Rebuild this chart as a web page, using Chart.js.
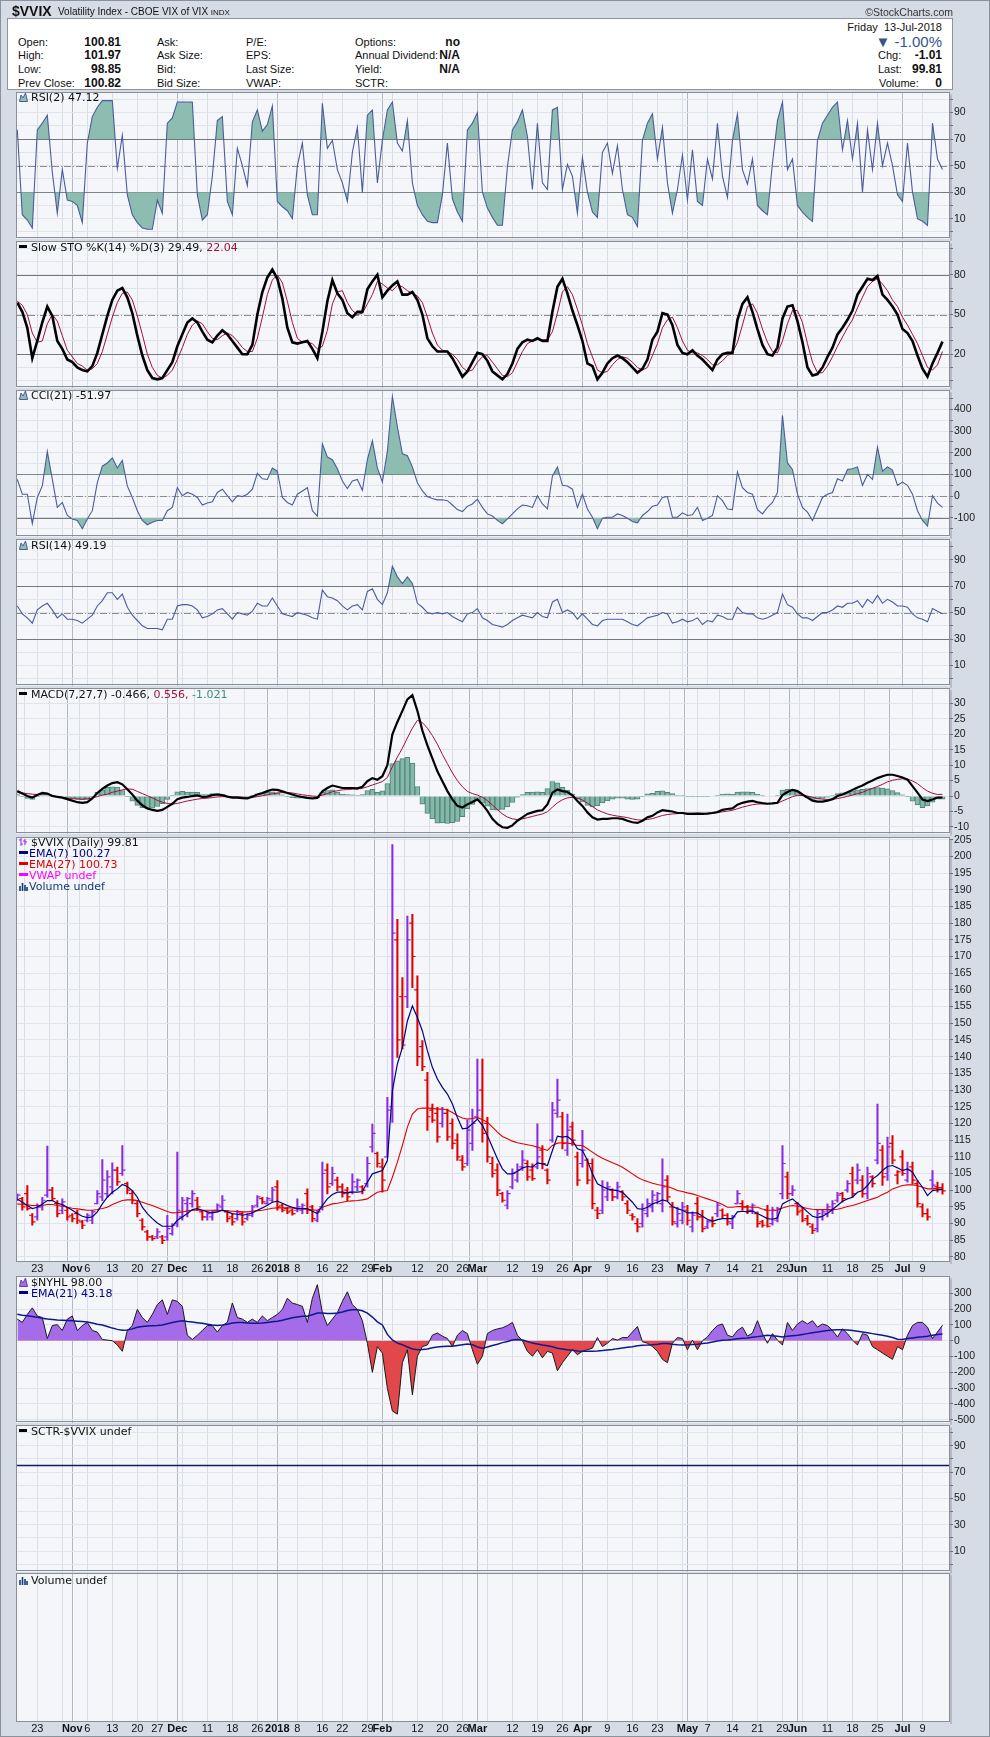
<!DOCTYPE html>
<html><head><meta charset="utf-8">
<script src="https://cdn.jsdelivr.net/npm/chart.js"></script>
<style>
html,body{margin:0;padding:0}
body{width:990px;height:1737px;background:#d6dce5;position:relative;overflow:hidden;font-family:"Liberation Sans",Arial,sans-serif;}
#edge{position:absolute;left:0;top:0;width:988px;height:1735px;border:1px solid #8a929e;z-index:9;pointer-events:none}
canvas{position:absolute;left:0}
.t{position:absolute;white-space:nowrap;font-size:11px;line-height:14px;height:14px;color:#111;z-index:6}
.b{font-weight:bold;font-size:12px}
#box{position:absolute;left:7px;top:18px;width:944px;height:70px;background:#fff;border:1px solid #8f949c;z-index:5}
.lg{position:absolute;left:19px;white-space:nowrap;font-family:"DejaVu Sans",Verdana,sans-serif;font-size:11px;line-height:14px;height:14px;color:#111;z-index:6}
.lg svg{vertical-align:-1px;margin-right:3px}
.dash{display:inline-block;width:8px;height:3px;vertical-align:3px;margin-right:4px}
</style></head>
<body>
<div id="edge"></div>
<div class="t" style="left:12px;top:4px;font-weight:bold;font-size:14px">$VVIX</div>
<div class="t" style="left:58px;top:5px;font-size:10px">Volatility Index - CBOE VIX of VIX <span style="font-size:8px">INDX</span></div>
<div class="t" style="right:37px;top:5px;font-size:10.5px;color:#333">©StockCharts.com</div>
<div id="box"></div>
<div class="t" style="right:48px;top:20px">Friday&nbsp; 13-Jul-2018</div>
<div class="t" style="left:18px;top:35px">Open:</div><div class="t b" style="right:869px;top:35px">100.81</div>
<div class="t" style="left:18px;top:48px">High:</div><div class="t b" style="right:869px;top:48px">101.97</div>
<div class="t" style="left:18px;top:62px">Low:</div><div class="t b" style="right:869px;top:62px">98.85</div>
<div class="t" style="left:18px;top:76px">Prev Close:</div><div class="t b" style="right:869px;top:76px">100.82</div>
<div class="t" style="left:157px;top:35px">Ask:</div>
<div class="t" style="left:157px;top:48px">Ask Size:</div>
<div class="t" style="left:157px;top:62px">Bid:</div>
<div class="t" style="left:157px;top:76px">Bid Size:</div>
<div class="t" style="left:246px;top:35px">P/E:</div>
<div class="t" style="left:246px;top:48px">EPS:</div>
<div class="t" style="left:246px;top:62px">Last Size:</div>
<div class="t" style="left:246px;top:76px">VWAP:</div>
<div class="t" style="left:355px;top:35px">Options:</div><div class="t b" style="right:530px;top:35px">no</div>
<div class="t" style="left:355px;top:48px">Annual Dividend:</div><div class="t b" style="right:530px;top:48px">N/A</div>
<div class="t" style="left:355px;top:62px">Yield:</div><div class="t b" style="right:530px;top:62px">N/A</div>
<div class="t" style="left:355px;top:76px">SCTR:</div>
<div class="t" style="right:48px;top:33px;font-size:15px;height:18px;line-height:18px;color:#34558c">&#9660; -1.00%</div>
<div class="t" style="left:878px;top:48px">Chg:</div><div class="t b" style="right:48px;top:48px">-1.01</div>
<div class="t" style="left:878px;top:62px">Last:</div><div class="t b" style="right:48px;top:62px">99.81</div>
<div class="t" style="left:879px;top:76px">Volume:</div><div class="t b" style="right:48px;top:76px">0</div>

<div class="lg" style="top:91px"><svg width="9" height="10"><path d="M0.5 9.5 L2 3 L4 6 L6.5 1 L8.5 9.5 Z" fill="#8cbfb0" stroke="#4b5c9c"/></svg>RSI(2) 47.12</div>
<div class="lg" style="top:241px"><span class="dash" style="background:#000"></span>Slow STO %K(14) %D(3) 29.49, <span style="color:#a0103c">22.04</span></div>
<div class="lg" style="top:389px"><svg width="9" height="10"><path d="M0.5 9.5 L2 3 L4 6 L6.5 1 L8.5 9.5 Z" fill="#8cbfb0" stroke="#4b5c9c"/></svg>CCI(21) -51.97</div>
<div class="lg" style="top:539px"><svg width="9" height="10"><path d="M0.5 9.5 L2 3 L4 6 L6.5 1 L8.5 9.5 Z" fill="#8cbfb0" stroke="#4b5c9c"/></svg>RSI(14) 49.19</div>
<div class="lg" style="top:688px"><span class="dash" style="background:#000"></span>MACD(7,27,7) -0.466, <span style="color:#a0103c">0.556,</span> <span style="color:#3f8f7a">-1.021</span></div>
<div class="lg" style="top:836px"><svg width="9" height="10"><path d="M2 1 V9 M0 3 H2 M2 7 H4 M6 2 V8 M4 4 H6 M6 5 H8" stroke="#8a2be2" fill="none"/></svg>$VVIX (Daily) 99.81</div>
<div class="lg" style="top:847px;color:#000080"><span class="dash" style="background:#000080;width:9px;margin-right:1px"></span>EMA(7) 100.27</div>
<div class="lg" style="top:858px;color:#e00000"><span class="dash" style="background:#e00000;width:9px;margin-right:1px"></span>EMA(27) 100.73</div>
<div class="lg" style="top:869px;color:#ff00ff"><span class="dash" style="background:#ff00ff;width:9px;margin-right:1px"></span>VWAP undef</div>
<div class="lg" style="top:880px;color:#163c78"><svg width="9" height="10" style="margin-right:1px"><path d="M1 10 V5 M3.5 10 V2 M6 10 V4 M8 10 V6" stroke="#163c78" stroke-width="1.6" fill="none"/></svg>Volume undef</div>
<div class="lg" style="top:1276px"><svg width="9" height="10"><path d="M0.5 9.5 L2 3 L4 6 L6.5 1 L8.5 9.5 Z" fill="#a46ce8" stroke="#6a3cb0"/></svg>$NYHL 98.00</div>
<div class="lg" style="top:1287px;color:#000080"><span class="dash" style="background:#000080;width:9px;margin-right:3px"></span>EMA(21) 43.18</div>
<div class="lg" style="top:1425px"><span class="dash" style="background:#000"></span>SCTR-$VVIX undef</div>
<div class="lg" style="top:1574px"><svg width="9" height="10"><path d="M1 10 V5 M3.5 10 V2 M6 10 V4 M8 10 V6" stroke="#163c78" stroke-width="1.6" fill="none"/></svg>Volume undef</div>

<script>
// ---------- DATA (one value per trading day, 17-Oct-2017 .. 13-Jul-2018) ----------
const openP = [97.2,97.5,99.0,92.5,92.0,95.0,98.5,100.0,96.0,94.0,
94.0,92.5,93.0,90.5,91.0,91.0,96.0,98.0,99.0,101.0,
106.0,105.0,102.0,99.0,96.0,91.0,87.5,86.0,86.0,86.0,
86.0,87.0,90.0,92.0,96.0,96.0,97.0,93.5,92.0,92.0,
94.0,95.0,93.5,92.0,91.5,93.0,91.5,92.5,95.5,97.5,
96.0,97.0,101.0,95.5,94.5,94.0,94.0,94.0,99.0,95.0,
91.0,95.0,106.0,102.0,103.0,101.0,100.0,99.5,101.0,101.0,
102.0,113.0,111.0,107.0,110.0,125.0,175.0,158.0,158.0,180.0,
160.0,143.0,133.0,124.0,123.0,120.0,123.0,120.0,115.0,109.0,
108.0,114.0,122.0,130.0,120.0,108.0,106.0,99.0,95.5,101.0,
103.0,107.0,108.0,106.0,107.0,112.0,106.0,115.0,123.0,122.0,
112.0,119.0,110.0,108.0,109.0,108.0,94.0,94.0,98.0,100.0,
98.0,99.5,96.0,92.5,90.0,90.0,93.0,95.0,97.0,96.0,
103.0,95.0,90.0,91.0,94.0,89.0,96.0,92.0,89.0,91.0,
93.0,94.0,92.5,90.0,96.0,96.0,95.0,94.0,93.0,90.5,
94.0,90.0,91.0,99.0,104.0,99.0,96.0,94.0,91.5,89.0,
88.5,92.0,93.0,94.0,97.0,99.0,100.0,105.0,103.0,103.0,
99.0,104.0,109.0,112.0,105.0,114.0,104.5,110.0,103.0,107.0,
102.0,95.0,93.0,103.0,101.0,100.81];
const highP = [98.9,97.9,101.4,93.0,95.9,97.9,113.2,100.9,96.9,97.4,
94.9,93.0,94.0,91.0,93.0,94.0,99.9,109.2,105.9,108.2,
106.9,113.4,102.4,99.9,96.9,91.5,88.0,86.5,88.5,86.5,
92.5,90.0,111.4,97.9,97.9,99.9,97.9,94.0,93.5,94.0,
95.9,98.4,94.0,93.0,94.0,93.5,93.0,95.5,98.4,97.9,
97.9,100.9,102.9,95.9,94.9,94.4,97.4,95.9,100.4,95.5,
94.0,108.4,107.9,106.9,103.9,101.9,100.9,104.9,103.4,101.4,
109.9,119.8,111.4,109.4,127.8,203.5,181.1,163.7,182.1,182.6,
164.2,144.8,135.3,125.8,124.8,124.8,124.3,121.4,116.9,110.4,
120.9,124.3,139.3,139.3,121.8,109.9,107.9,99.4,99.9,106.4,
107.9,111.9,108.9,107.9,119.9,113.4,106.4,126.3,133.3,123.3,
122.8,120.4,111.4,117.9,109.4,109.4,94.9,102.9,102.4,100.4,
102.4,99.9,96.9,93.0,91.5,95.9,97.4,99.9,99.4,109.4,
104.4,96.4,94.9,96.4,95.5,93.5,97.9,94.0,91.0,92.0,
96.4,94.4,93.0,92.5,99.9,96.9,95.5,95.9,93.5,91.0,
95.5,94.9,94.9,113.4,105.4,101.4,96.4,94.9,92.5,89.9,
94.0,94.0,95.9,96.9,99.4,99.4,102.9,106.9,107.9,104.4,
106.9,104.4,125.8,113.4,115.9,116.4,105.9,111.9,108.4,108.4,
102.9,95.9,94.4,105.9,102.4,101.97];
const lowP = [96.9,94.0,94.0,89.5,91.0,94.0,97.9,96.9,92.0,93.0,
91.0,90.5,90.0,88.5,90.5,90.0,95.9,96.9,97.9,98.9,
101.4,104.4,98.9,95.9,92.0,88.0,85.0,85.0,85.5,84.0,
85.0,86.5,89.0,91.0,92.0,94.9,94.0,91.0,91.0,91.0,
93.5,94.0,90.5,89.5,91.0,89.5,91.0,92.0,94.9,95.9,
95.9,96.4,94.0,93.5,93.0,92.5,93.5,93.0,93.0,90.5,
90.5,94.0,98.9,101.4,99.9,97.9,96.9,98.9,99.9,98.9,
100.9,111.4,106.9,99.4,109.9,120.3,139.8,142.3,154.7,160.7,
137.3,135.8,117.9,120.3,114.4,118.9,114.9,112.4,108.9,105.9,
107.4,111.9,121.4,114.4,108.4,103.9,98.4,96.4,94.4,100.4,
102.4,105.9,102.9,102.9,106.4,106.4,101.9,114.4,121.8,112.4,
110.4,113.4,101.4,106.9,101.9,94.4,91.5,93.0,96.9,96.9,
97.4,96.9,93.0,91.0,87.5,88.9,92.0,93.5,95.9,93.5,
96.9,89.5,88.9,89.9,89.5,87.5,91.0,87.5,88.5,89.0,
92.0,91.5,89.5,88.5,95.9,94.0,93.0,93.0,88.9,88.9,
88.9,89.5,90.5,97.4,97.4,98.4,92.5,90.5,89.5,87.0,
87.5,91.0,92.0,93.0,96.4,96.4,99.4,97.9,101.9,97.9,
97.4,100.9,107.9,101.4,102.9,107.9,101.9,104.4,102.4,101.9,
94.9,92.0,91.0,100.4,99.4,98.85];
const closeP = [98.5,95.0,94.5,90.5,95.0,97.0,100.0,97.5,93.0,96.5,
92.0,91.5,91.0,89.5,92.5,93.5,99.0,103.0,104.0,106.0,
102.5,106.0,100.0,97.0,93.0,89.0,86.0,85.5,87.5,85.0,
88.5,89.5,94.0,97.0,97.5,99.0,95.0,92.0,93.0,93.5,
95.5,97.0,91.5,90.5,93.5,90.5,92.5,95.0,98.0,96.5,
97.5,100.0,95.0,94.0,93.5,93.0,95.0,95.5,94.0,91.5,
93.5,105.0,101.0,105.0,101.0,99.0,98.0,102.5,103.0,100.0,
108.0,117.0,108.0,103.0,124.0,177.0,145.0,143.5,175.0,170.0,
140.0,137.0,122.0,121.0,116.0,123.0,116.0,114.0,110.0,107.0,
118.0,120.0,124.0,117.0,110.0,105.0,100.0,97.0,99.0,105.0,
106.0,109.0,104.0,103.5,110.0,108.0,103.0,124.0,127.0,114.0,
118.0,115.0,103.0,112.0,103.0,96.0,93.0,100.0,101.0,98.0,
101.0,98.0,94.0,92.0,89.0,94.0,96.0,98.5,99.0,101.0,
98.0,90.5,93.0,95.0,91.0,92.5,92.0,88.5,90.5,90.0,
95.5,92.5,90.5,92.0,99.0,95.0,94.0,95.5,90.0,89.5,
89.2,94.0,94.5,108.0,99.0,100.0,93.5,91.0,90.0,88.0,
93.0,93.5,95.0,96.0,98.5,97.5,102.0,99.0,106.0,99.0,
105.0,102.0,114.0,104.0,113.0,109.0,105.5,105.0,106.0,103.0,
96.0,93.0,92.0,101.5,100.82,99.81];
const ema7 = [97.4,96.4,95.4,94.5,94.9,95.9,96.9,96.9,96.1,95.7,
94.9,94.0,93.0,92.2,91.8,92.0,93.5,95.9,97.9,99.4,
100.4,101.7,101.1,99.9,97.9,94.9,93.0,91.5,90.2,89.2,
89.2,89.2,91.0,92.0,93.0,94.2,94.5,94.0,93.5,93.2,
93.5,94.0,93.5,93.0,92.8,92.5,92.8,93.2,94.0,94.7,
95.5,96.4,96.7,96.1,95.4,94.9,94.5,94.5,94.5,93.7,
93.0,95.4,97.4,98.7,99.4,99.4,99.2,99.4,99.4,99.6,
102.4,104.9,105.4,105.9,108.9,129.8,137.8,142.8,150.7,155.2,
151.7,147.7,141.8,136.8,133.3,130.8,128.8,125.8,121.8,118.4,
118.6,119.9,121.3,119.4,116.4,112.9,109.4,106.4,104.9,104.9,
105.7,106.7,107.1,106.9,108.2,107.9,107.4,111.9,116.2,115.9,
116.1,114.9,112.4,111.9,108.9,104.9,101.9,101.1,100.4,100.1,
99.9,99.4,97.9,96.4,94.5,94.3,94.9,95.9,96.4,97.1,
96.7,95.1,94.5,94.0,93.2,93.2,93.2,92.2,91.3,90.7,
91.2,91.5,91.5,91.5,93.5,93.7,93.5,93.8,93.0,92.3,
91.5,91.3,91.7,95.9,96.7,97.4,96.1,94.9,93.5,92.2,
91.8,92.2,93.0,94.2,95.4,96.7,97.4,97.9,99.4,99.9,
101.4,103.4,104.4,105.9,107.1,107.4,106.7,105.9,106.4,105.4,
102.9,100.9,98.4,99.9,100.1,100.27];
const ema27 = [95.9,95.7,95.6,95.4,95.4,95.4,95.7,95.7,95.4,95.2,
94.9,94.6,94.4,94.2,94.0,94.0,94.2,94.5,94.9,95.7,
96.3,96.9,97.1,97.1,96.9,96.4,95.9,95.4,94.8,94.2,
93.6,93.2,93.3,93.5,93.8,94.0,94.0,94.0,94.0,94.0,
94.0,93.9,93.8,93.7,93.6,93.5,93.5,93.7,93.9,94.0,
94.3,94.6,94.7,94.7,94.7,94.7,94.5,94.4,94.3,94.1,
94.0,94.9,95.4,95.9,96.1,96.4,96.7,96.8,96.9,97.1,
97.4,98.4,99.4,99.7,99.9,103.9,108.4,113.4,118.9,122.8,
124.3,124.6,124.6,124.5,124.3,124.3,124.0,123.3,122.3,121.6,
121.3,121.5,121.8,121.1,120.4,118.9,117.4,116.1,115.4,114.7,
114.2,113.9,113.6,113.3,112.9,112.4,111.9,113.4,114.1,114.2,
114.1,113.9,113.4,113.4,112.4,111.4,110.4,109.6,108.9,108.2,
107.6,106.9,105.9,104.9,103.9,103.1,102.6,102.1,101.7,101.4,
101.1,100.6,99.9,99.6,99.2,98.9,98.4,97.9,97.4,96.9,
96.4,95.7,94.9,94.9,95.1,95.1,95.0,94.9,94.9,94.4,
94.0,94.0,94.0,94.7,95.1,95.4,95.2,94.9,94.5,94.3,
94.2,94.2,94.2,94.2,94.3,94.7,95.1,95.4,95.9,96.4,
96.9,97.4,97.9,98.7,99.4,100.4,100.9,101.4,101.6,101.6,
101.4,100.9,100.4,100.4,100.6,100.73];
const rsi2 = [77,13,9,3,77,82,88,45,14,47,
24,23,20,7,67,87,94,99,99,99,
48,73,28,13,7,3,2,2,24,14,
82,86,98,98,98,98,28,9,13,42,
84,87,23,13,63,50,35,83,92,76,
81,95,23,19,16,10,50,67,28,13,
13,97,63,69,47,37,23,60,79,30,
88,92,37,69,92,98,67,61,84,37,
20,13,8,7,7,28,67,25,15,8,
77,82,90,30,18,11,5,5,49,77,
83,92,72,32,82,37,32,92,94,32,
51,42,14,56,30,15,11,60,67,44,
65,32,13,11,4,69,82,89,55,79,
37,14,32,58,24,62,23,20,55,40,
82,42,26,69,89,47,36,55,20,16,
13,52,84,98,47,55,20,15,11,8,
69,82,88,94,98,62,84,55,82,30,
77,47,82,50,67,50,28,23,67,30,
10,8,5,82,55,47.12];
const stoK = [59,52,40,17,30,44,56,49,30,24,
16,14,10,8,7,11,21,35,49,61,
68,70,63,51,34,19,8,2,1,2,
8,14,26,35,44,47,44,37,31,29,
34,38,35,30,25,20,20,27,50,67,
78,84,77,62,40,29,28,29,30,24,
17,37,60,76,66,61,51,48,52,52,
69,75,80,63,68,72,75,65,65,67,
61,50,32,26,22,22,22,17,10,3,
7,14,21,20,15,7,4,1,5,13,
24,29,31,30,32,30,30,52,71,77,
66,53,42,30,13,11,1,6,13,17,
19,17,14,10,6,9,16,31,37,51,
50,42,27,21,20,23,19,16,12,8,
16,20,21,21,46,58,63,52,39,27,
20,19,25,47,56,57,45,29,10,4,
5,10,18,25,35,40,46,53,65,71,
77,76,79,65,61,56,50,39,36,30,
19,9,3,13,21,29.49];
const stoD = [60,57,50,36,29,30,43,50,45,34,
23,18,13,11,8,9,13,22,35,48,
59,66,67,61,49,35,20,10,4,2,
4,8,16,25,35,42,45,43,37,32,
31,34,36,34,30,25,22,22,32,48,
65,76,80,74,60,44,32,29,29,28,
24,26,38,58,67,68,59,53,50,51,
58,65,75,73,70,68,72,71,68,66,
64,59,48,36,27,23,22,20,16,10,
7,8,14,18,19,14,9,4,3,6,
14,22,28,30,31,31,31,37,51,67,
71,65,54,42,28,18,8,6,7,12,
16,18,17,14,10,8,10,19,28,40,
46,48,40,30,23,21,21,19,16,12,
12,15,19,21,29,42,56,58,51,39,
29,22,21,30,43,53,53,44,28,14,
6,6,11,18,26,33,40,46,55,63,
71,75,77,73,68,61,56,48,42,35,
28,19,10,8,12,22.04];
const cci21 = [77,9,9,-127,-6,47,206,77,-52,-29,
-89,-105,-112,-150,-105,-67,62,138,153,176,
130,165,47,-6,-67,-112,-132,-120,-112,-112,
-67,-52,39,2,17,9,-6,-41,-32,-26,
17,32,2,-26,2,-2,9,32,105,80,
77,130,115,-6,-29,-41,9,24,39,-67,
-92,241,180,168,126,70,35,70,77,27,
168,255,130,65,206,459,320,195,186,135,
62,24,-2,-11,-17,-17,-21,-41,-62,-71,
-47,-36,-14,-52,-82,-92,-112,-127,-105,-82,
-59,-41,-44,-52,2,-36,-59,92,135,50,
47,32,-52,9,-59,-97,-150,-102,-97,-97,
-82,-89,-102,-117,-123,-89,-71,-47,-41,-6,
-2,-97,-97,-77,-89,-86,-52,-112,-102,-89,
2,-21,-59,-62,111,39,17,9,-62,-82,
-52,-29,17,373,153,123,9,-52,-74,-112,
-59,-6,9,17,80,70,123,126,135,50,
100,77,226,115,135,120,50,65,50,9,
-67,-112,-138,2,-32,-51.97];
const rsi14 = [55,49,46,42,52,55,57,52,46,49,
45,45,44,42,45,48,55,59,65,65,
60,64,54,48,44,40,38,38,38,37,
45,45,55,56,56,55,52,46,47,49,
52,53,49,45,50,49,48,51,57,55,
55,61,55,49,48,47,50,49,48,46,
45,67,62,61,59,55,52,55,56,52,
66,68,60,56,65,85,77,72,77,72,
57,54,50,49,50,49,50,47,45,43,
49,50,53,46,44,41,40,39,41,44,
46,48,47,46,50,47,46,58,60,50,
52,50,45,49,45,41,40,44,45,45,
45,45,43,41,40,43,46,47,48,50,
49,42,43,45,43,44,46,41,44,43,
48,47,45,45,54,50,49,49,46,45,
46,48,50,64,56,54,49,46,46,44,
47,50,50,52,55,54,57,57,59,54,
60,57,63,57,60,58,55,55,54,49,
46,45,43,53,51,49.19];
const macdLine = [1.6,0.8,0,-0.5,0.3,1,0.8,0,-0.3,-0.5,
-1,-1.5,-2,-2.2,-2,-0.8,1,2.3,3.4,4.2,
4.5,3.8,2.2,0.5,-1.5,-3,-4,-4.5,-4.8,-4.5,
-3.5,-2.5,-1,-0.5,-0.3,0,0.2,-0.3,-0.2,0.3,
0.5,0.3,-0.2,-0.5,-0.5,-0.7,-0.8,-0.2,0.5,1,
1.6,2.1,2,1.5,1,0.5,0,-0.3,-0.6,-0.8,
-0.6,1.5,2.6,3.4,3,2.6,2.6,2.6,2.5,3,
4.8,5.8,5.3,6.4,10,20,24,27.6,31.3,32.7,
27.6,21.2,16.4,12.2,8,4.8,1.6,-1.1,-3.2,-3.7,
-2.7,-1.9,-1.1,-2.7,-4.8,-7.4,-9,-10.1,-10.3,-9.5,
-8,-6.9,-5.8,-5.3,-4.8,-4.6,-2.7,1.1,2.1,1.6,
1.3,0.2,-1.6,-3.2,-5.3,-6.9,-7.6,-7.4,-7.4,-7.2,
-7.2,-7.4,-8,-8.5,-8.7,-8,-6.9,-6.4,-5.3,-4.6,
-4.8,-5,-5.5,-5.5,-5.8,-5.8,-5.7,-5.8,-5.7,-5.5,
-5.2,-4.5,-4.2,-4,-2.8,-2.2,-1.8,-1.6,-2,-2.3,
-2.5,-2.4,-2.2,0.3,1.3,2,1.6,0.5,-0.5,-1.5,
-1.8,-1.8,-1.5,-1,0,0.5,1.2,2,2.8,3.4,
4.3,5,5.8,6.4,6.9,6.9,6.5,6,5.3,3.2,
1.1,-1.1,-1.6,-1.1,-0.5,-0.466];
const macdSignal = [1.1,1.0,0.8,0.6,0.5,0.6,0.6,0.2,-0.1,-0.5,
-0.6,-0.8,-1.0,-1.0,-0.9,-0.6,-0.2,0.3,0.6,1.2,
1.6,2.0,2.3,2.2,1.5,0.8,0.1,-0.6,-1.4,-2.0,
-2.4,-2.6,-2.4,-2.0,-1.6,-1.3,-1.0,-0.8,-0.7,-0.5,
-0.3,-0.2,-0.2,-0.3,-0.3,-0.4,-0.5,-0.4,-0.2,0.1,
0.4,0.7,1.0,1.1,1.1,1.0,0.7,0.4,0.2,0.0,
-0.1,0.3,0.8,1.4,1.7,2.0,2.1,2.2,2.3,2.5,
3.0,3.6,4.1,4.7,6.0,9.5,12.6,15.5,18.8,22.0,
24.5,23.8,22.0,19.6,16.8,13.5,10.5,7.5,5.0,3.0,
1.5,0.8,0.3,-0.4,-1.5,-2.9,-4.4,-5.8,-6.8,-7.4,
-7.6,-7.4,-7.0,-6.6,-6.2,-5.8,-5.1,-3.6,-2.2,-1.2,
-0.6,-0.4,-0.7,-1.3,-2.3,-3.4,-4.5,-5.2,-5.8,-6.2,
-6.5,-6.7,-7.0,-7.4,-7.7,-7.8,-7.6,-7.3,-6.8,-6.3,
-6.0,-5.8,-5.7,-5.6,-5.6,-5.6,-5.6,-5.6,-5.6,-5.5,
-5.3,-5.1,-4.9,-4.6,-4.1,-3.6,-3.2,-2.8,-2.6,-2.5,
-2.5,-2.4,-2.3,-1.6,-0.9,-0.2,0.2,0.2,0.0,-0.4,
-0.8,-1.0,-1.1,-1.1,-0.8,-0.5,-0.1,0.3,0.8,1.2,
1.9,2.5,3.1,3.8,4.6,5.1,5.4,5.6,5.5,4.9,
4.0,2.7,1.6,0.9,0.5,0.556];
const macdHist = [0.5,-0.2,-0.8,-1.1,-0.2,0.4,0.2,-0.2,-0.2,0.0,
-0.4,-0.7,-1.0,-1.2,-1.1,-0.2,1.2,2.0,2.8,3.0,
2.9,1.8,-0.1,-1.7,-3.0,-3.8,-4.1,-3.9,-3.4,-2.5,
-1.1,0.1,1.4,1.5,1.3,1.3,1.2,0.5,0.5,0.8,
0.8,0.5,0.0,-0.2,-0.2,-0.3,-0.3,0.2,0.7,0.9,
1.2,1.4,1.0,0.4,-0.1,-0.5,-0.7,-0.7,-0.8,-0.8,
-0.5,1.2,1.8,2.0,1.3,0.6,0.5,0.4,0.2,0.5,
1.8,2.2,1.2,1.7,4.0,10.5,11.4,12.1,12.5,10.7,
3.1,-2.6,-5.6,-7.4,-8.8,-8.7,-8.9,-8.6,-8.2,-6.7,
-4.2,-2.7,-1.4,-2.3,-3.3,-4.5,-4.6,-4.3,-3.5,-2.1,
-0.4,0.5,1.2,1.3,1.4,1.2,2.4,4.7,4.3,2.8,
1.9,0.6,-0.9,-1.9,-3.0,-3.5,-3.1,-2.2,-1.6,-1.0,
-0.7,-0.7,-1.0,-1.1,-1.0,-0.2,0.7,0.9,1.5,1.7,
1.2,0.8,0.2,0.1,-0.2,-0.2,-0.1,-0.2,-0.1,0.0,
0.1,0.6,0.7,0.6,1.3,1.4,1.4,1.2,0.6,0.2,
0.0,0.0,0.1,1.9,2.2,2.2,1.4,0.3,-0.5,-1.1,
-1.0,-0.8,-0.4,0.1,0.8,1.0,1.3,1.7,2.0,2.2,
2.4,2.5,2.7,2.6,2.3,1.8,1.1,0.4,-0.2,-1.7,
-2.9,-3.8,-3.2,-2.0,-1.0,-1.021];
const nyhl = [137,116,167,208,157,147,14,96,102,65,
137,157,65,96,116,65,55,8,4,0,
-27,-67,65,96,198,147,116,167,229,259,
167,259,249,218,35,8,35,65,96,96,
55,96,116,239,147,137,116,137,116,157,
127,147,167,198,269,239,229,218,116,269,
355,178,96,137,178,249,310,229,198,127,
-16,-200,-37,-78,-302,-445,-465,-139,-57,-343,
-98,-37,-27,35,49,29,14,-37,35,65,
45,-57,-149,-98,45,65,75,82,96,116,
35,0,-67,-98,-57,-108,-67,-78,-190,-139,
-98,-57,-88,-67,-57,-47,20,-37,-16,14,
4,20,20,55,90,-6,-16,-37,-67,-118,
-139,-16,20,14,-57,4,-57,0,24,65,
96,106,35,24,65,86,29,49,127,45,
-16,45,4,-27,116,65,106,127,106,127,
86,106,96,65,24,75,45,4,-27,45,
35,-37,-57,-78,-98,-118,-37,-57,35,96,
116,116,86,14,55,98];
const nyhlEma21 = [167,162,158,153,148,143,138,135,132,130,
128,126,124,122,118,112,105,100,90,80,
72,66,68,75,85,90,93,95,96,100,
108,115,122,127,122,118,114,110,105,100,
96,100,105,112,116,115,113,111,110,112,
116,120,124,130,138,145,150,155,155,165,
175,175,172,173,175,182,192,196,196,190,
175,150,120,100,40,5,-15,-25,-40,-52,
-57,-55,-52,-45,-40,-37,-35,-35,-30,-25,
-20,-25,-40,-47,-40,-30,-22,-12,-5,5,
8,5,-5,-15,-20,-27,-32,-38,-47,-52,
-57,-60,-65,-67,-67,-67,-65,-62,-58,-55,
-50,-46,-42,-38,-32,-28,-27,-25,-22,-18,
-18,-22,-25,-27,-26,-24,-22,-18,-14,-8,
-2,3,5,8,12,15,18,22,26,30,
34,32,28,24,28,32,35,40,45,50,
55,60,65,68,69,69,68,65,60,55,
50,45,40,35,28,20,10,8,14,18,
22,25,29,35,40,43.18];
const sctrLevel = 75;
// x-axis: day index of weekly / monthly grid lines and their labels
const gridDays = [4,9,11,14,19,24,28,32,33,38,43,48,52,56,61,65,70,73,75,80,85,89,92,94,99,104,109,113,118,123,128,133,134,138,143,148,153,156,157,162,167,172,177,181];
const gridText = ['23','','Nov','6','13','20','27','Dec','','11','18','26','2018','8','16','22','29','Feb','','12','20','26','Mar','','12','19','26','Apr','9','16','23','','May','7','14','21','29','Jun','','11','18','25','Jul','9'];
const monthDays = [11,32,52,73,92,113,134,156,177];

// ---------- helpers ----------
const AXF = '"Liberation Sans", Arial, sans-serif';
const TEAL = '#8dbdb0';
const UP = '#8a2be2', DN = '#e00000';
const pts = a => a.map((v, i) => ({x: i, y: v}));
const barColor = closeP.map((c, i) => (i === 0 || c >= closeP[i - 1]) ? UP : DN);

const frameBg = {
  id: 'frameBg',
  beforeDraw(c) {
    const a = c.chartArea, x = c.ctx;
    x.save(); x.fillStyle = '#f4f6fa';
    x.fillRect(a.left, a.top, a.right - a.left, a.bottom - a.top); x.restore();
  },
  afterDraw(c) {
    const a = c.chartArea, x = c.ctx;
    x.save(); x.strokeStyle = '#8a8e96'; x.lineWidth = 1;
    x.strokeRect(Math.round(a.left) + 0.5, Math.round(a.top) + 0.5, Math.round(a.right - a.left) - 1, Math.round(a.bottom - a.top) - 1);
    x.fillStyle = 'rgba(120,128,140,0.35)';
    x.fillRect(Math.round(a.right), a.top + 2, 2, a.bottom - a.top);
    x.restore();
  }
};
function refLines(lines) {
  return {
    id: 'refLines',
    beforeDatasetsDraw(c) {
      const y = c.scales.y, a = c.chartArea, x = c.ctx;
      lines.forEach(l => {
        const py = Math.round(y.getPixelForValue(l.v)) + 0.5;
        x.save(); x.strokeStyle = l.color || '#74777e'; x.lineWidth = l.w || 1;
        x.setLineDash(l.dash || []);
        x.beginPath(); x.moveTo(a.left, py); x.lineTo(a.right, py); x.stroke(); x.restore();
      });
    }
  };
}
const DASHDOT = [7, 2, 1, 2];
function xAxis(show) {
  return {
    type: 'linear', min: -0.26, max: 186.5, offset: false,
    afterBuildTicks: s => { s.ticks = gridDays.map(v => ({value: v})); },
    afterFit: s => { s.height = show ? 14 : 0; },
    grid: { color: c => (c.tick && monthDays.includes(c.tick.value)) ? '#b3b8c2' : '#d9dde5', lineWidth: 1, drawTicks: false },
    border: { display: false },
    ticks: {
      display: show, autoSkip: false, maxRotation: 0, padding: 0, color: '#111',
      callback: v => { const k = gridDays.indexOf(v); return k < 0 ? '' : gridText[k]; },
      font: c => ({ family: AXF, size: 11, weight: (c.tick && monthDays.includes(c.tick.value)) ? 'bold' : 'normal' })
    }
  };
}
function yAxis(min, max, tickVals, labelVals, showGrid) {
  return {
    type: 'linear', position: 'right', min, max,
    afterBuildTicks: s => { s.ticks = tickVals.map(v => ({value: v})); },
    afterFit: s => { s.width = 40; },
    grid: { display: showGrid !== false, color: '#e0e4ea', lineWidth: 1, drawTicks: true, tickLength: 3, tickColor: '#6a6e76' },
    border: { display: false },
    ticks: { autoSkip: false, padding: 1, color: '#1a1a1a', font: { family: AXF, size: 10.5 },
      callback: v => labelVals.includes(v) ? String(v) : '' }
  };
}
function opts(yCfg, showX, padB) {
  return {
    responsive: false, animation: false, devicePixelRatio: 1, events: [],
    layout: { padding: { left: 16, right: 0, top: 6, bottom: padB } },
    plugins: { legend: { display: false }, tooltip: { enabled: false } },
    elements: { line: { tension: 0 }, point: { radius: 0 } },
    scales: { x: xAxis(showX), y: yCfg }
  };
}
function make(top, h, type, datasets, o, extra) {
  const cv = document.createElement('canvas');
  cv.width = 990; cv.height = h; cv.style.top = top + 'px';
  document.body.appendChild(cv);
  return new Chart(cv, { type, data: { datasets }, options: o, plugins: [frameBg].concat(extra || []) });
}
const range = (a, b, s) => { const r = []; for (let v = a; v <= b + 1e-9; v += s) r.push(Math.round(v * 100) / 100); return r; };
const oscTicks = range(0, 100, 10);

function bandLine(data, hi, lo, color) {
  return [
    { type: 'line', data: pts(data), borderColor: color, borderWidth: 1.1, pointRadius: 0,
      fill: { target: { value: hi }, above: TEAL, below: 'rgba(0,0,0,0)' } },
    { type: 'line', data: pts(data), borderColor: 'rgba(0,0,0,0)', borderWidth: 0, pointRadius: 0,
      fill: { target: { value: lo }, above: 'rgba(0,0,0,0)', below: TEAL } }
  ];
}

// RSI(2)
make(85, 161, 'line', bandLine(rsi2, 70, 30, '#4b5c9c'),
  opts(yAxis(-5.1, 105.3, oscTicks, [10, 30, 50, 70, 90]), false, 6),
  [refLines([{v: 70}, {v: 30}, {v: 50, dash: DASHDOT, color: '#8a8d93'}])]);

// Slow STO
make(234, 161, 'line', [
  { data: pts(stoK), borderColor: '#000', borderWidth: 2.6, pointRadius: 0 },
  { data: pts(stoD), borderColor: '#a50f3c', borderWidth: 1, pointRadius: 0 }
], opts(yAxis(-5.3, 105.3, oscTicks, [20, 50, 80]), false, 6),
  [refLines([{v: 80}, {v: 20}, {v: 50, dash: DASHDOT, color: '#8a8d93'}])]);

// CCI(21)
make(383, 161, 'line', bandLine(cci21, 100, -100, '#4b5c9c'),
  opts(yAxis(-187, 488, range(-150, 450, 50), [-100, 0, 100, 200, 300, 400]), false, 6),
  [refLines([{v: 100}, {v: -100}, {v: 0, dash: DASHDOT, color: '#8a8d93'}])]);

// RSI(14)
make(532, 161, 'line', bandLine(rsi14, 70, 30, '#4b5c9c'),
  opts(yAxis(-5.3, 105.4, oscTicks, [10, 30, 50, 70, 90]), false, 6),
  [refLines([{v: 70}, {v: 30}, {v: 50, dash: DASHDOT, color: '#8a8d93'}])]);

// MACD
make(681, 160, 'bar', [
  { type: 'line', data: pts(macdLine), borderColor: '#000', borderWidth: 2.2, pointRadius: 0, order: 0 },
  { type: 'line', data: pts(macdSignal), borderColor: '#a50f3c', borderWidth: 1, pointRadius: 0, order: 1 },
  { type: 'bar', data: pts(macdHist), backgroundColor: '#86b8aa', borderColor: '#4f8777', borderWidth: 1, barThickness: 5, grouped: false, order: 2 }
], opts(yAxis(-12.2, 34.9, range(-10, 30, 5), range(-10, 30, 5)), false, 6));

// Price
make(830, 446, 'bar', [
  { type: 'line', data: pts(ema7), borderColor: '#000080', borderWidth: 1.2, pointRadius: 0, order: 0 },
  { type: 'line', data: pts(ema27), borderColor: '#e00000', borderWidth: 1.1, pointRadius: 0, order: 1 },
  { type: 'line', showLine: false, data: openP.map((v, i) => ({x: i - 0.32, y: v})), pointStyle: 'line', pointRadius: 1.6, pointBorderWidth: 1.2, pointBorderColor: barColor, order: 2 },
  { type: 'line', showLine: false, data: closeP.map((v, i) => ({x: i + 0.32, y: v})), pointStyle: 'line', pointRadius: 1.6, pointBorderWidth: 1.2, pointBorderColor: barColor, order: 2 },
  { type: 'bar', data: lowP.map((v, i) => ({x: i, y: [v, highP[i]]})), backgroundColor: barColor, borderWidth: 0, barThickness: 1.4, grouped: false, order: 3 }
], opts(yAxis(78.5, 205.7, range(80, 205, 5), range(80, 205, 5)), true, 0));

// $NYHL
make(1269, 161, 'line', [
  { data: pts(nyhlEma21), borderColor: '#0c1a8a', borderWidth: 1.5, pointRadius: 0 },
  { data: pts(nyhl), borderColor: '#1a1a1a', borderWidth: 1, pointRadius: 0,
    fill: { target: { value: 0 }, above: '#a46ce8', below: '#e2474b' } }
], opts(yAxis(-519, 408, range(-500, 300, 100), range(-500, 300, 100)), false, 6));

// SCTR
make(1418, 161, 'line', [],
  opts(yAxis(-5.7, 105.5, oscTicks, [10, 30, 50, 70, 90]), false, 6),
  [refLines([{v: sctrLevel, color: '#0c1a70', w: 1.5}])]);

// Volume
make(1567, 169, 'line', [],
  opts(yAxis(0, 1, [], [], false), true, 0));
</script>
</body></html>
